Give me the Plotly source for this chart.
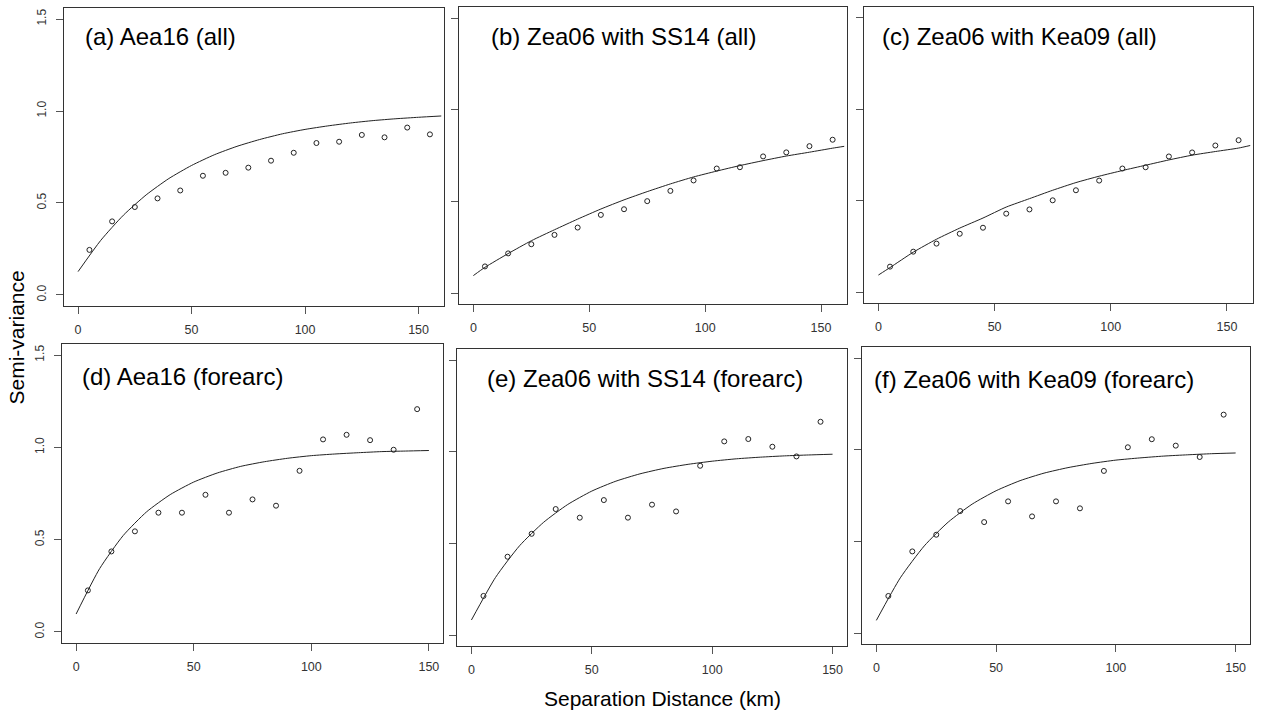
import plotly.graph_objects as go

W, H = 1262, 711

# ---------------- data ----------------
x_pts_all = [5, 15, 25, 35, 45, 55, 65, 75, 85, 95, 105, 115, 125, 135, 145, 155]
x_pts_fore = [5, 15, 25, 35, 45, 55, 65, 75, 85, 95, 105, 115, 125, 135, 145]

a_pts = [0.245, 0.400, 0.478, 0.525, 0.568, 0.648, 0.664, 0.692, 0.730, 0.773, 0.826, 0.833, 0.870, 0.857, 0.910, 0.873]
b_pts = [0.145, 0.216, 0.266, 0.317, 0.357, 0.426, 0.457, 0.501, 0.557, 0.614, 0.679, 0.686, 0.745, 0.767, 0.801, 0.836]
c_pts = [0.139, 0.221, 0.265, 0.319, 0.352, 0.429, 0.452, 0.502, 0.557, 0.610, 0.676, 0.683, 0.742, 0.764, 0.802, 0.831]
d_pts = [0.225, 0.436, 0.545, 0.646, 0.646, 0.743, 0.646, 0.718, 0.684, 0.873, 1.043, 1.068, 1.039, 0.987, 1.207]
e_pts = [0.213, 0.427, 0.552, 0.687, 0.640, 0.736, 0.640, 0.711, 0.674, 0.923, 1.056, 1.069, 1.027, 0.974, 1.163]
f_pts = [0.202, 0.445, 0.536, 0.665, 0.605, 0.718, 0.636, 0.718, 0.680, 0.884, 1.013, 1.057, 1.022, 0.960, 1.191]

x_curve_a = [0, 10, 20, 30, 40, 50, 60, 70, 80, 90, 100, 110, 120, 130, 140, 150, 160]
a_curve = [0.127, 0.297, 0.434, 0.544, 0.633, 0.704, 0.762, 0.808, 0.845, 0.876, 0.900, 0.919, 0.935, 0.948, 0.958, 0.966, 0.973]

x_curve_bc = [0, 5, 15, 25, 35, 45, 55, 65, 75, 85, 95, 105, 115, 125, 135, 145, 155, 160]
b_curve = [0.095, 0.140, 0.215, 0.285, 0.345, 0.403, 0.458, 0.508, 0.553, 0.595, 0.633, 0.665, 0.695, 0.722, 0.747, 0.768, 0.790, 0.800]
c_curve = [0.093, 0.134, 0.218, 0.289, 0.350, 0.405, 0.465, 0.511, 0.557, 0.599, 0.634, 0.665, 0.694, 0.723, 0.749, 0.769, 0.788, 0.802]

x_curve_fore = [0, 10, 20, 30, 40, 50, 60, 70, 80, 90, 100, 110, 120, 130, 140, 150]
d_curve = [0.097, 0.343, 0.522, 0.651, 0.744, 0.812, 0.861, 0.897, 0.922, 0.941, 0.955, 0.964, 0.971, 0.977, 0.980, 0.983]
e_curve = [0.082, 0.314, 0.487, 0.615, 0.712, 0.785, 0.839, 0.879, 0.909, 0.931, 0.948, 0.961, 0.970, 0.977, 0.982, 0.986]
f_curve = [0.069, 0.301, 0.475, 0.605, 0.703, 0.776, 0.831, 0.872, 0.902, 0.925, 0.943, 0.955, 0.965, 0.972, 0.978, 0.982]

titles = ["(a) Aea16 (all)", "(b) Zea06 with SS14 (all)", "(c) Zea06 with Kea09 (all)",
          "(d) Aea16 (forearc)", "(e) Zea06 with SS14 (forearc)", "(f) Zea06 with Kea09 (forearc)"]

x_ticks = [0, 50, 100, 150]
y_ticks = [0.0, 0.5, 1.0, 1.5]
y_tick_text = ["0.0", "0.5", "1.0", "1.5"]
x_title = "Separation Distance (km)"
y_title = "Semi-variance"

# ---------------- layout geometry (pixels) ----------------
# (left, right, top, bottom) of each panel frame
frames = [
    (64, 444, 8, 306),
    (459, 847, 7, 304),
    (864, 1253, 7, 303),
    (62, 443, 344, 643),
    (457, 847, 349, 646),
    (862, 1250, 347, 644),
]
title_pos = [(83, 36.7), (488.7, 36.7), (880.3, 36.7), (79.7, 376.7), (485.3, 378.3), (872, 379.3)]

panels = [
    (x_pts_all, a_pts, x_curve_a, a_curve),
    (x_pts_all, b_pts, x_curve_bc, b_curve),
    (x_pts_all, c_pts, x_curve_bc, c_curve),
    (x_pts_fore, d_pts, x_curve_fore, d_curve),
    (x_pts_fore, e_pts, x_curve_fore, e_curve),
    (x_pts_fore, f_pts, x_curve_fore, f_curve),
]

FONT = "Liberation Sans, Arial, sans-serif"
INK = "#222222"

fig = go.Figure()
layout = dict(
    width=W, height=H,
    margin=dict(l=0, r=0, t=0, b=0),
    paper_bgcolor="white", plot_bgcolor="white",
    showlegend=False,
    font=dict(family=FONT, color="#000"),
)
annotations = []

for i, (px, py, cx, cy) in enumerate(panels):
    n = i + 1
    xa = "x" if n == 1 else f"x{n}"
    ya = "y" if n == 1 else f"y{n}"
    fig.add_trace(go.Scatter(x=cx, y=cy, mode="lines", xaxis=xa, yaxis=ya,
                             line=dict(color=INK, width=1, shape="spline", smoothing=0.6),
                             hoverinfo="skip"))
    fig.add_trace(go.Scatter(x=px, y=py, mode="markers", xaxis=xa, yaxis=ya,
                             marker=dict(symbol="circle-open", size=5, color=INK,
                                         line=dict(width=1, color=INK))))
    l, r, t, b = frames[i]
    top_row = i < 3
    xr = [-6.2, 161.2] if top_row else [-6.0, 156.0]
    layout["xaxis" if n == 1 else f"xaxis{n}"] = dict(
        domain=[l / W, r / W], range=xr, anchor=ya,
        showline=True, mirror=True, linecolor="#333", linewidth=1,
        showgrid=False, zeroline=False,
        ticks="outside", ticklen=7, tickcolor="#555", tickwidth=1,
        tickvals=x_ticks, ticktext=[str(v) for v in x_ticks],
        tickfont=dict(size=12.5, color="#333", family=FONT),
        ticklabelstandoff=5,
    )
    layout["yaxis" if n == 1 else f"yaxis{n}"] = dict(
        domain=[1 - b / H, 1 - t / H], range=[-0.06, 1.56], anchor=xa,
        showline=True, mirror=True, linecolor="#333", linewidth=1,
        showgrid=False, zeroline=False,
        ticks="outside", ticklen=7, tickcolor="#555", tickwidth=1,
        tickvals=y_ticks, ticktext=y_tick_text,
        showticklabels=(i % 3 == 0),
        tickangle=-90,
        tickfont=dict(size=12, color="#333", family=FONT),
        ticklabelstandoff=5,
    )
    tx, ty = title_pos[i]
    annotations.append(dict(text=titles[i], x=tx / W, y=1 - ty / H, xref="paper", yref="paper",
                            xanchor="left", yanchor="middle", showarrow=False,
                            font=dict(size=24, color="#000", family=FONT)))

annotations.append(dict(text=x_title, x=662.7 / W, y=1 - 698.3 / H, xref="paper", yref="paper",
                        xanchor="center", yanchor="middle", showarrow=False,
                        font=dict(size=21, color="#000", family=FONT)))
annotations.append(dict(text=y_title, x=16 / W, y=1 - 337.5 / H, xref="paper", yref="paper",
                        xanchor="center", yanchor="middle", showarrow=False, textangle=-90,
                        font=dict(size=21, color="#000", family=FONT)))

layout["annotations"] = annotations
fig.update_layout(**layout)
fig.write_html("out.html", config={"displayModeBar": False},
               post_script="document.body.style.margin='0';document.body.style.overflow='hidden';")
